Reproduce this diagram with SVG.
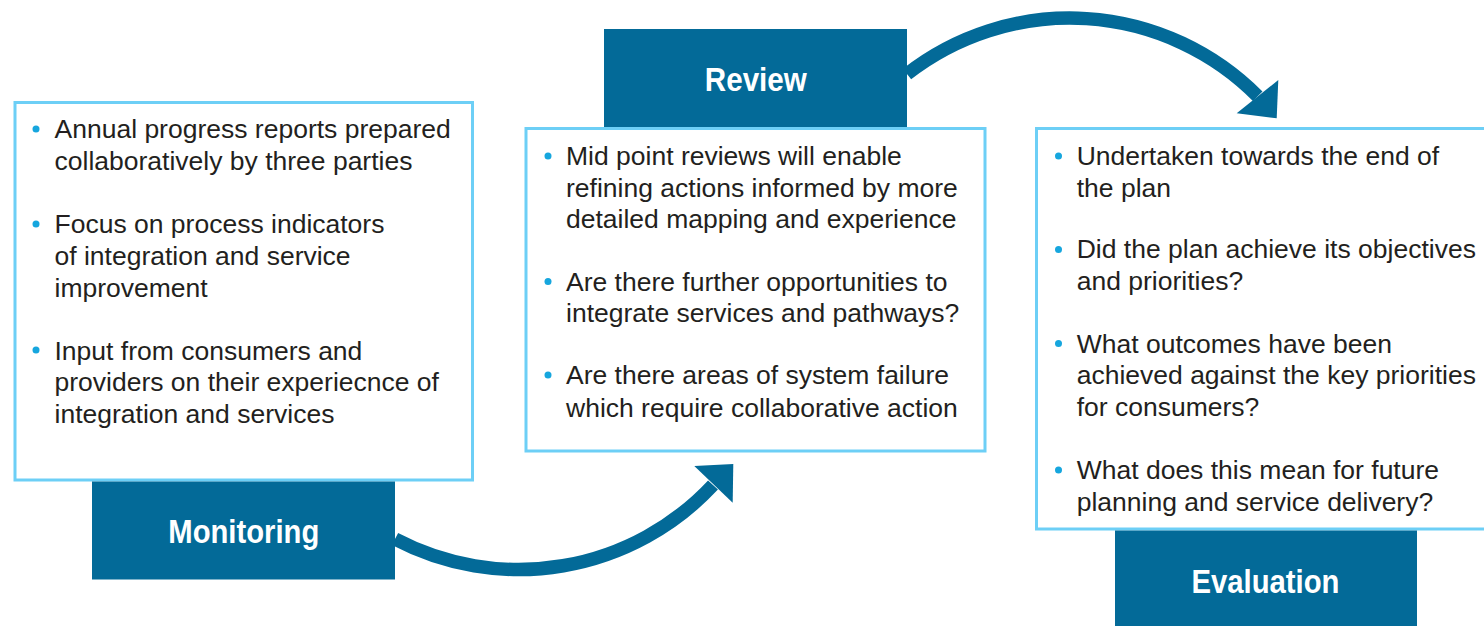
<svg xmlns="http://www.w3.org/2000/svg" width="1484" height="626" viewBox="0 0 1484 626">
<style>
.box{fill:#fff;stroke:#6DCFF6;stroke-width:3}
.lbl{fill:#036A98}
.lt{font-family:"Liberation Sans",Arial,sans-serif;font-weight:bold;font-size:34px;fill:#fff;text-anchor:middle}
.t{font-family:"Liberation Sans",Arial,sans-serif;font-size:26.5px;fill:#231F20}
.b{fill:#16A6DE}
.arc{fill:none;stroke:#036A98;stroke-width:13.5}
.head{fill:#036A98}
</style>
<rect width="1484" height="626" fill="#fff"/>
<g id="connectors">
<path class="arc" d="M395,539 A265.7,265.7 0 0,0 713,485"/>
<polygon class="head" points="694.3,466 733.3,464 732.7,502.7"/>
<path class="arc" d="M907,74 A265,265 0 0,1 1257.7,96.2"/>
<polygon class="head" points="1236.7,113.3 1276.7,118.3 1278.3,80"/>
</g>
<g id="monitoring">
<rect class="box" x="15" y="102.5" width="457.5" height="377.5"/>
<rect class="lbl" x="92" y="481.5" width="303" height="98"/>
<text class="lt" x="243.8" y="543" textLength="151" lengthAdjust="spacingAndGlyphs">Monitoring</text>
<circle class="b" cx="36" cy="129" r="3.5"/>
<circle class="b" cx="36" cy="224" r="3.5"/>
<circle class="b" cx="36" cy="350" r="3.5"/>
<text class="t" x="54.5"><tspan x="54.5" y="138">Annual progress reports prepared</tspan><tspan x="54.5" y="170">collaboratively by three parties</tspan><tspan x="54.5" y="233">Focus on process indicators</tspan><tspan x="54.5" y="265">of integration and service</tspan><tspan x="54.5" y="297">improvement</tspan><tspan x="54.5" y="359.5">Input from consumers and</tspan><tspan x="54.5" y="391">providers on their experiecnce of</tspan><tspan x="54.5" y="423">integration and services</tspan></text>
</g>
<g id="review">
<rect class="lbl" x="604" y="29" width="303" height="98"/>
<text class="lt" x="755.8" y="91" textLength="102" lengthAdjust="spacingAndGlyphs">Review</text>
<rect class="box" x="526" y="128.5" width="459" height="322.5"/>
<circle class="b" cx="548" cy="156" r="3.5"/>
<circle class="b" cx="548" cy="281.5" r="3.5"/>
<circle class="b" cx="548" cy="375" r="3.5"/>
<text class="t"><tspan x="566" y="165">Mid point reviews will enable</tspan><tspan x="566" y="196.7">refining actions informed by more</tspan><tspan x="566" y="228.3">detailed mapping and experience</tspan><tspan x="566" y="290.7">Are there further opportunities to</tspan><tspan x="566" y="322.3">integrate services and pathways?</tspan><tspan x="566" y="384.3">Are there areas of system failure</tspan><tspan x="566" y="416.5">which require collaborative action</tspan></text>
</g>
<g id="evaluation">
<rect class="box" x="1036.5" y="128.5" width="460" height="400.5"/>
<rect class="lbl" x="1115" y="530.5" width="302" height="96"/>
<text class="lt" x="1265.5" y="592.5" textLength="148" lengthAdjust="spacingAndGlyphs">Evaluation</text>
<circle class="b" cx="1058.5" cy="156" r="3.5"/>
<circle class="b" cx="1058.5" cy="249.5" r="3.5"/>
<circle class="b" cx="1058.5" cy="343.5" r="3.5"/>
<circle class="b" cx="1058.5" cy="470" r="3.5"/>
<text class="t"><tspan x="1076.7" y="165">Undertaken towards the end of</tspan><tspan x="1076.7" y="196.7">the plan</tspan><tspan x="1076.7" y="258.3">Did the plan achieve its objectives</tspan><tspan x="1076.7" y="290">and priorities?</tspan><tspan x="1076.7" y="352.7">What outcomes have been</tspan><tspan x="1076.7" y="384.3">achieved against the key priorities</tspan><tspan x="1076.7" y="416">for consumers?</tspan><tspan x="1076.7" y="479.3">What does this mean for future</tspan><tspan x="1076.7" y="511">planning and service delivery?</tspan></text>
</g>
</svg>
